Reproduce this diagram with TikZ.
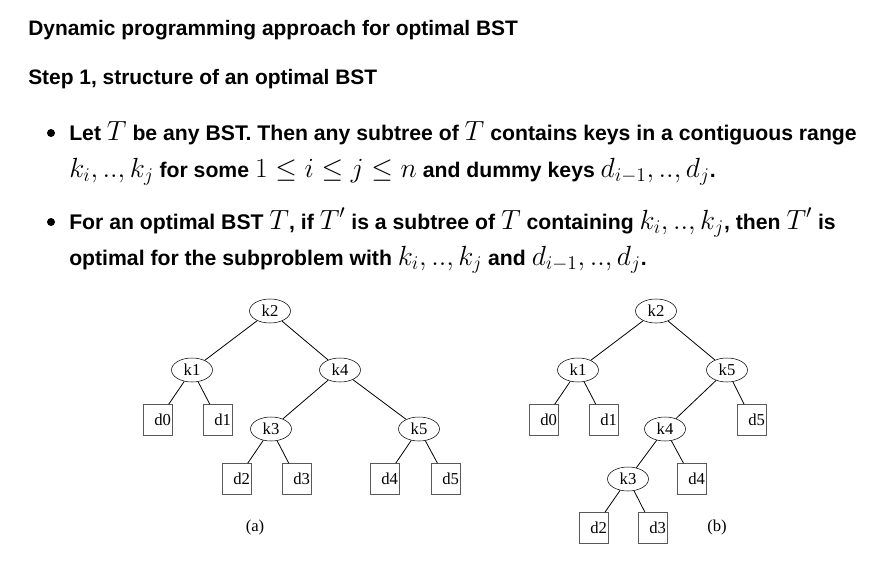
\RequirePackage{fix-cm}
\documentclass[tikz,border=0pt]{standalone}
\usepackage[no-math]{fontspec}
\setmainfont{Liberation Sans}
\newfontfamily\treefont{Liberation Serif}
\usetikzlibrary{shapes.geometric}
\newcommand{\mth}[1]{{\fontsize{20.8}{22}\selectfont$#1$}}
\begin{document}
\begin{tikzpicture}[x=0.75pt,y=-0.75pt,
  txt/.style={anchor=base west,inner sep=0pt,font=\fontsize{15.7}{18}\selectfont\bfseries},
  btxt/.style={anchor=base west,inner sep=0pt,font=\fontsize{15.9}{18}\selectfont\bfseries},
  key/.style={draw=black,ellipse,minimum width=30.75pt,minimum height=18pt,inner sep=0pt,font=\fontsize{12.5}{14}\selectfont\treefont},
  dum/.style={draw=black!65,rectangle,minimum width=21.75pt,minimum height=23.25pt,inner xsep=0.5pt,inner ysep=0pt,font=\fontsize{12.5}{14}\selectfont\treefont},
  subcap/.style={inner sep=0pt,font=\fontsize{12.5}{14}\selectfont\treefont},
  bul/.style={circle,fill=black,inner sep=0pt,minimum size=6pt},
  conn/.style={draw=black,line width=0.6pt}]
\useasboundingbox (0,0) rectangle (870,588);
% text
\node[txt] (title) at (28,36) {Dynamic programming approach for optimal BST};
\node[txt] (step) at (28,85) {Step 1, structure of an optimal BST};
\node[bul] (b1) at (51,133) {};
\node[btxt] (l1) at (69,141) {Let \mth{T} be any BST. Then any subtree of \mth{T} contains keys in a contiguous range};
\node[btxt] (l2) at (69,177) {\mth{k_i, .., k_j} for some \mth{1 \le i \le j \le n} and dummy keys \mth{d_{i-1}, .., d_j}.};
\node[bul] (b2) at (51,222) {};
\node[btxt] (l3) at (69,229) {For an optimal BST \mth{T}, if \mth{T'} is a subtree of \mth{T} containing \mth{k_i, .., k_j}, then \mth{T'} is};
\node[btxt] (l4) at (69,265) {optimal for the subproblem with \mth{k_i, .., k_j} and \mth{d_{i-1}, .., d_j}.};
% tree (a)
\node[key] (ak2) at (270,311) {k2};
\node[key] (ak1) at (192,370) {k1};
\node[key] (ak4) at (340,370) {k4};
\node[dum] (ad0) at (158,420) {\hspace*{7pt}d0};
\node[dum] (ad1) at (218,420) {\hspace*{7pt}d1};
\node[key] (ak3) at (271,429) {k3};
\node[key] (ak5) at (419,429) {k5};
\node[dum] (ad2) at (237,479) {\hspace*{7pt}d2};
\node[dum] (ad3) at (297,479) {\hspace*{7pt}d3};
\node[dum] (ad4) at (385,479) {\hspace*{7pt}d4};
\node[dum] (ad5) at (446,479) {\hspace*{7pt}d5};
\node[subcap] (capa) at (255,527) {(a)};
\draw[conn] (ak2) -- (ak1);
\draw[conn] (ak2) -- (ak4);
\draw[conn] (ak1) -- (ad0);
\draw[conn] (ak1) -- (ad1);
\draw[conn] (ak4) -- (ak3);
\draw[conn] (ak4) -- (ak5);
\draw[conn] (ak3) -- (ad2);
\draw[conn] (ak3) -- (ad3);
\draw[conn] (ak5) -- (ad4);
\draw[conn] (ak5) -- (ad5);
% tree (b)
\node[key] (bk2) at (656,311) {k2};
\node[key] (bk1) at (578,370) {k1};
\node[key] (bk5) at (727,370) {k5};
\node[dum] (bd0) at (544,420) {\hspace*{7pt}d0};
\node[dum] (bd1) at (604,420) {\hspace*{7pt}d1};
\node[dum] (bd5) at (752,420) {\hspace*{7pt}d5};
\node[key] (bk4) at (665,429) {k4};
\node[key] (bk3) at (628,479) {k3};
\node[dum] (bd4) at (692,479) {\hspace*{7pt}d4};
\node[dum] (bd2) at (594,528) {\hspace*{7pt}d2};
\node[dum] (bd3) at (653,528) {\hspace*{7pt}d3};
\node[subcap] (capb) at (717,527) {(b)};
\draw[conn] (bk2) -- (bk1);
\draw[conn] (bk2) -- (bk5);
\draw[conn] (bk1) -- (bd0);
\draw[conn] (bk1) -- (bd1);
\draw[conn] (bk5) -- (bk4);
\draw[conn] (bk5) -- (bd5);
\draw[conn] (bk4) -- (bk3);
\draw[conn] (bk4) -- (bd4);
\draw[conn] (bk3) -- (bd2);
\draw[conn] (bk3) -- (bd3);
\end{tikzpicture}
\end{document}
